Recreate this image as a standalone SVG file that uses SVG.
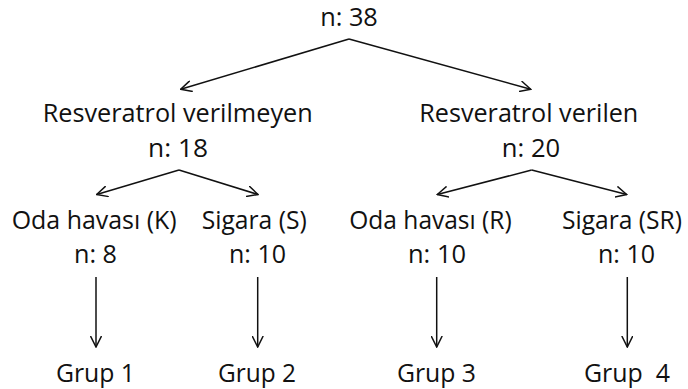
<svg xmlns="http://www.w3.org/2000/svg" width="688" height="389" viewBox="0 0 688 389">
  <style>
    text { font-family: "Open Sans", "Noto Sans", "Liberation Sans", sans-serif; font-size: 25px; fill: #111; text-anchor: middle; }
    .conn { fill: none; stroke: #111; stroke-width: 1.5; marker-end: url(#arrow); }
  </style>
  <defs>
    <marker id="arrow" viewBox="0 0 12 12" refX="11" refY="6" markerWidth="12" markerHeight="12" markerUnits="userSpaceOnUse" orient="auto">
      <path d="M0,0.5 L11,6 L0,11.5" fill="none" stroke="#111" stroke-width="1.5"/>
    </marker>
  </defs>
  <rect width="688" height="389" fill="#fff"/>
  <g id="connectors">
    <path class="conn" d="M349,39 L180.7,89.3"/>
    <path class="conn" d="M349,39 L530.7,89.3"/>
    <path class="conn" d="M179,170 L96.7,194.5"/>
    <path class="conn" d="M179,170 L258,194.5"/>
    <path class="conn" d="M531.7,170 L437.3,194.5"/>
    <path class="conn" d="M531.7,170 L626.7,194.5"/>
    <path class="conn" d="M96,277 L96,347"/>
    <path class="conn" d="M257.7,277 L257.7,347"/>
    <path class="conn" d="M436.7,277 L436.7,347"/>
    <path class="conn" d="M627.3,277 L627.3,347"/>
  </g>
  <g id="root">
    <text x="349" y="26" textLength="57.7" lengthAdjust="spacingAndGlyphs">n: 38</text>
  </g>
  <g id="no-resveratrol">
    <text x="177.7" y="121.7" textLength="270" lengthAdjust="spacingAndGlyphs">Resveratrol verilmeyen</text>
    <text x="178" y="156.7" textLength="60" lengthAdjust="spacingAndGlyphs">n: 18</text>
  </g>
  <g id="resveratrol">
    <text x="528.8" y="121.7" textLength="219" lengthAdjust="spacingAndGlyphs">Resveratrol verilen</text>
    <text x="531" y="156.7" textLength="58.3" lengthAdjust="spacingAndGlyphs">n: 20</text>
  </g>
  <g id="oda-havasi-k">
    <text x="94.2" y="229" textLength="165" lengthAdjust="spacingAndGlyphs">Oda havası (K)</text>
    <text x="95.5" y="263" textLength="43" lengthAdjust="spacingAndGlyphs">n: 8</text>
  </g>
  <g id="sigara-s">
    <text x="254.2" y="229" textLength="105" lengthAdjust="spacingAndGlyphs">Sigara (S)</text>
    <text x="257.5" y="263" textLength="57" lengthAdjust="spacingAndGlyphs">n: 10</text>
  </g>
  <g id="oda-havasi-r">
    <text x="430.5" y="229" textLength="162.4" lengthAdjust="spacingAndGlyphs">Oda havası (R)</text>
    <text x="437" y="263" textLength="58" lengthAdjust="spacingAndGlyphs">n: 10</text>
  </g>
  <g id="sigara-sr">
    <text x="622" y="229" textLength="120" lengthAdjust="spacingAndGlyphs">Sigara (SR)</text>
    <text x="626.5" y="263" textLength="57" lengthAdjust="spacingAndGlyphs">n: 10</text>
  </g>
  <g id="grup-1">
    <text x="95.5" y="381.7" textLength="79" lengthAdjust="spacingAndGlyphs">Grup 1</text>
  </g>
  <g id="grup-2">
    <text x="257" y="381.7" textLength="78" lengthAdjust="spacingAndGlyphs">Grup 2</text>
  </g>
  <g id="grup-3">
    <text x="436.5" y="381.7" textLength="79" lengthAdjust="spacingAndGlyphs">Grup 3</text>
  </g>
  <g id="grup-4">
    <text x="627" y="381.7" textLength="86" lengthAdjust="spacingAndGlyphs" xml:space="preserve">Grup  4</text>
  </g>
</svg>
